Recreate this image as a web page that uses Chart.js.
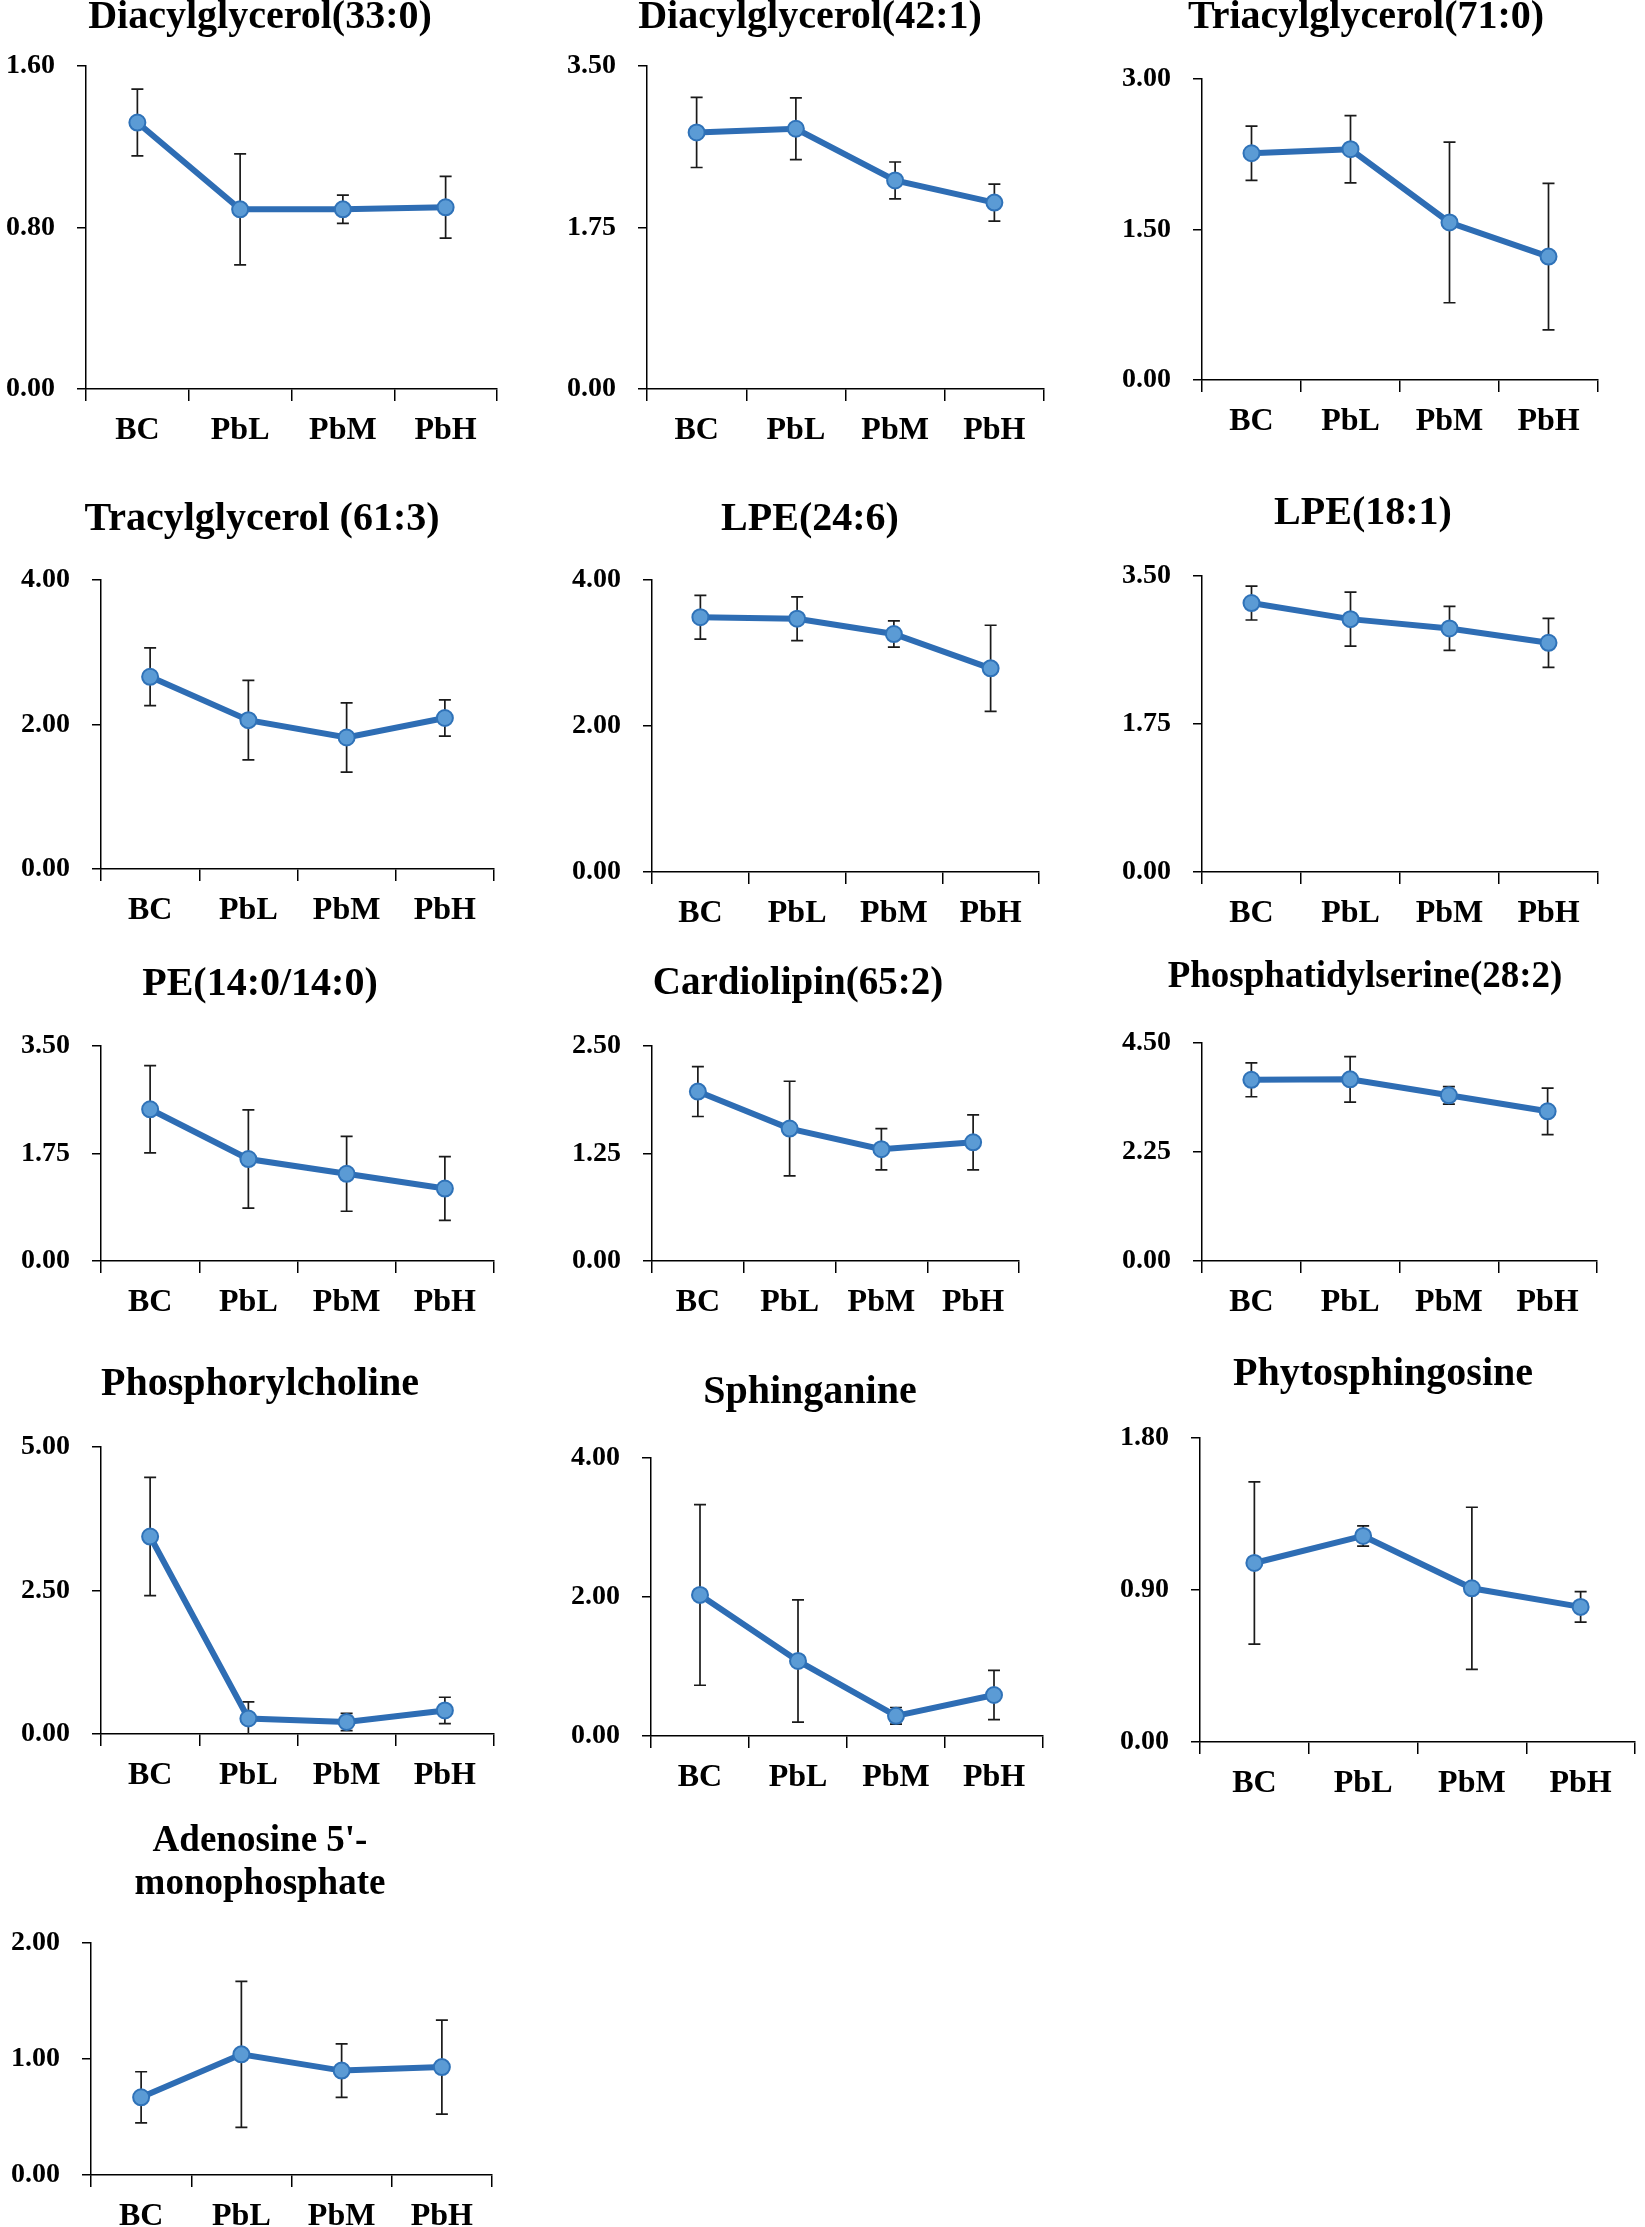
<!DOCTYPE html>
<html>
<head>
<meta charset="utf-8">
<script src="https://cdn.jsdelivr.net/npm/chart.js@4.4.1/dist/chart.umd.min.js"></script>
<style>
  html, body { margin: 0; padding: 0; background: #fff; }
  body { width: 1645px; height: 2227px; position: relative; overflow: hidden; }
  canvas { position: absolute; }
</style>
</head>
<body>
<script>
const groups = ['BC', 'PbL', 'PbM', 'PbH'];

const titles = [
  ['Diacylglycerol(33:0)'], ['Diacylglycerol(42:1)'], ['Triacylglycerol(71:0)'],
  ['Tracylglycerol (61:3)'], ['LPE(24:6)'], ['LPE(18:1)'],
  ['PE(14:0/14:0)'], ['Cardiolipin(65:2)'], ['Phosphatidylserine(28:2)'],
  ['Phosphorylcholine'], ['Sphinganine'], ['Phytosphingosine'],
  ['Adenosine 5\'-', 'monophosphate']
];

const yTicks = [
  [0, 0.8, 1.6], [0, 1.75, 3.5], [0, 1.5, 3.0],
  [0, 2.0, 4.0], [0, 2.0, 4.0], [0, 1.75, 3.5],
  [0, 1.75, 3.5], [0, 1.25, 2.5], [0, 2.25, 4.5],
  [0, 2.5, 5.0], [0, 2.0, 4.0], [0, 0.9, 1.8],
  [0, 1.0, 2.0]
];

const means = [
  [1.32, 0.89, 0.89, 0.90], [2.78, 2.82, 2.26, 2.02], [2.26, 2.30, 1.57, 1.23],
  [2.66, 2.06, 1.82, 2.09], [3.49, 3.47, 3.26, 2.79], [3.18, 2.99, 2.88, 2.71],
  [2.47, 1.66, 1.42, 1.18], [1.97, 1.54, 1.30, 1.38], [3.74, 3.75, 3.42, 3.09],
  [3.44, 0.27, 0.21, 0.41], [2.03, 1.08, 0.29, 0.59], [1.06, 1.22, 0.91, 0.80],
  [0.67, 1.04, 0.90, 0.93]
];

const errs = [
  [0.165, 0.275, 0.07, 0.153], [0.38, 0.335, 0.20, 0.20], [0.27, 0.335, 0.80, 0.73],
  [0.40, 0.55, 0.48, 0.25], [0.30, 0.30, 0.18, 0.59], [0.20, 0.32, 0.26, 0.29],
  [0.71, 0.80, 0.61, 0.52], [0.29, 0.55, 0.24, 0.32], [0.35, 0.47, 0.18, 0.48],
  [1.03, 0.29, 0.15, 0.23], [1.30, 0.88, 0.12, 0.355], [0.48, 0.06, 0.48, 0.09],
  [0.22, 0.63, 0.23, 0.405]
];

// page placement of each panel: y-axis x, x-axis end, top tick y, zero y, title centre and size
const boxes = [
  { x: 86,   r: 504,  top: 66,   zero: 389,  tx: 260,  ty: 18,   ts: 40 },
  { x: 647,  r: 1051, top: 66,   zero: 389,  tx: 810,  ty: 18,   ts: 40 },
  { x: 1202, r: 1605, top: 79,   zero: 380,  tx: 1366, ty: 18,   ts: 40 },
  { x: 101,  r: 501,  top: 580,  zero: 869,  tx: 262,  ty: 520,  ts: 40 },
  { x: 652,  r: 1046, top: 580,  zero: 872,  tx: 810,  ty: 520,  ts: 40 },
  { x: 1202, r: 1605, top: 576,  zero: 872,  tx: 1363, ty: 514,  ts: 40 },
  { x: 101,  r: 501,  top: 1046, zero: 1261, tx: 260,  ty: 985,  ts: 40 },
  { x: 652,  r: 1026, top: 1046, zero: 1261, tx: 798,  ty: 984,  ts: 39 },
  { x: 1202, r: 1604, top: 1043, zero: 1261, tx: 1365, ty: 977,  ts: 37 },
  { x: 101,  r: 501,  top: 1447, zero: 1734, tx: 260,  ty: 1385, ts: 40 },
  { x: 651,  r: 1050, top: 1458, zero: 1736, tx: 810,  ty: 1393, ts: 40 },
  { x: 1200, r: 1642, top: 1438, zero: 1742, tx: 1383, ty: 1375, ts: 40 },
  { x: 91,   r: 499,  top: 1943, zero: 2175, tx: 260,  ty: 1841, ts: 37 }
];

const FONT = '"Liberation Serif", "Times New Roman", serif';
const LEFT = 110;
const RIGHT = 3;
const XAXIS_H = 70;
const BOTTOM = 14;

const errorBars = {
  id: 'errorBars',
  beforeDatasetsDraw(chart) {
    const { ctx, chartArea } = chart;
    const ds = chart.data.datasets[0];
    const meta = chart.getDatasetMeta(0);
    const y = chart.scales.y;
    ctx.save();
    ctx.beginPath();
    ctx.rect(chartArea.left - 20, chartArea.top - 2, chartArea.width + 40, chartArea.height + 2);
    ctx.clip();
    ctx.strokeStyle = '#1a1a1a';
    ctx.lineWidth = 1.7;
    ds.errors.forEach((e, i) => {
      const v = ds.data[i];
      const px = meta.data[i].x;
      const hi = y.getPixelForValue(v + e);
      const lo = y.getPixelForValue(v - e);
      ctx.beginPath();
      ctx.moveTo(px, hi); ctx.lineTo(px, lo);
      ctx.moveTo(px - 6, hi); ctx.lineTo(px + 6, hi);
      ctx.moveTo(px - 6, lo); ctx.lineTo(px + 6, lo);
      ctx.stroke();
    });
    ctx.restore();
  }
};

boxes.forEach((b, i) => {
  const lines = titles[i];
  const cTop = Math.min(b.ty - 30, b.top - 25);
  const cLeft = b.x - LEFT;
  const w = b.r - b.x + LEFT + RIGHT;
  const h = b.zero - cTop + XAXIS_H + BOTTOM;

  const canvas = document.createElement('canvas');
  canvas.width = w;
  canvas.height = h;
  canvas.style.left = cLeft + 'px';
  canvas.style.top = cTop + 'px';
  canvas.style.width = w + 'px';
  canvas.style.height = h + 'px';
  document.body.appendChild(canvas);

  const panelTitle = {
    id: 'panelTitle',
    afterDraw(chart) {
      const ctx = chart.ctx;
      ctx.save();
      ctx.fillStyle = '#000';
      ctx.font = 'bold ' + b.ts + 'px ' + FONT;
      ctx.textAlign = 'center';
      ctx.textBaseline = 'middle';
      lines.forEach((t, k) => ctx.fillText(t, b.tx - cLeft, b.ty - cTop + k * 43));
      ctx.restore();
    }
  };

  const ticks = yTicks[i];
  new Chart(canvas.getContext('2d'), {
    type: 'line',
    data: {
      labels: groups,
      datasets: [{
        data: means[i],
        errors: errs[i],
        borderColor: '#2e6db4',
        borderWidth: 6,
        tension: 0,
        pointRadius: 8,
        pointHoverRadius: 8,
        pointBackgroundColor: '#5b9bd5',
        pointBorderColor: '#2f72b8',
        pointBorderWidth: 2,
        clip: false
      }]
    },
    options: {
      responsive: false,
      animation: false,
      devicePixelRatio: 1,
      layout: { padding: { top: b.top - cTop, left: 0, right: RIGHT, bottom: BOTTOM } },
      plugins: { legend: { display: false }, title: { display: false }, tooltip: { enabled: false } },
      scales: {
        x: {
          type: 'category',
          offset: true,
          grid: { offset: true, drawOnChartArea: false, drawTicks: true, tickLength: 12, color: '#000', lineWidth: 1.5 },
          border: { display: true, color: '#000', width: 1.5 },
          ticks: { color: '#000', font: { family: FONT, size: 32, weight: 'bold' }, padding: 11, maxRotation: 0, autoSkip: false },
          afterFit(a) { a.height = XAXIS_H; }
        },
        y: {
          min: ticks[0],
          max: ticks[2],
          grid: { drawOnChartArea: false, drawTicks: true, tickLength: 9, color: '#000', lineWidth: 1.5 },
          border: { display: true, color: '#000', width: 1.5 },
          ticks: { color: '#000', font: { family: FONT, size: 28, weight: 'bold' }, padding: 22,
                   callback: v => Number(v).toFixed(2) },
          afterBuildTicks(a) { a.ticks = ticks.map(v => ({ value: v })); },
          afterFit(a) { a.width = LEFT; }
        }
      }
    },
    plugins: [errorBars, panelTitle]
  });
});
</script>
</body>
</html>
